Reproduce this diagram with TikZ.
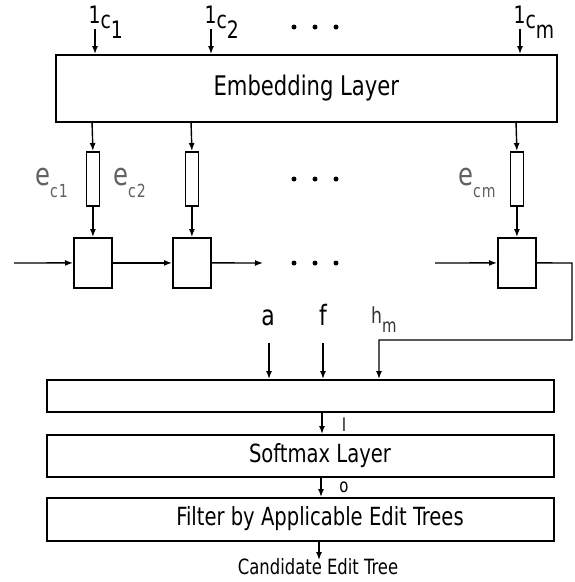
\documentclass[tikz,border=0pt]{standalone}
\usepackage{fontspec}
\setmainfont[FakeStretch=0.87]{DejaVu Sans Condensed}
\usetikzlibrary{arrows.meta}
\newcommand{\fsz}[1]{\fontsize{#1}{#1}\selectfont}
\tikzset{
  box/.style={draw,line width=1.8pt,inner sep=0pt,anchor=north west},
  arr/.style={line width=1.4pt,-{Latex[length=8pt,width=6pt]}},
  dot/.style={fill,circle,inner sep=0pt,minimum size=5pt},
  lbl/.style={inner sep=0pt},
  glbl/.style={inner sep=0pt,text=black!62},
}
\newcommand{\onec}[1]{1\raisebox{-5pt}{c}\raisebox{-15pt}{#1}}
\newcommand{\ec}[1]{{\fsz{31}e}\raisebox{-12pt}{\fsz{18}c\kern1pt#1}}
\begin{document}
\begin{tikzpicture}[x=1pt,y=-1pt]
\useasboundingbox[fill=white] (0,0) rectangle (575,582);
% embedding layer
\node[box,minimum width=501pt,minimum height=67pt] (emb) at (55,54) {};
\node[lbl,font=\fsz{27}] at (emb.center) {Embedding Layer};
% inputs
\foreach \x/\s/\n in {95/1/i1,211/2/i2,520/m/im}{
  \coordinate (\n) at (\x,29);
  \node[lbl,anchor=base west,font=\fsz{24}] at (\x-6.6,23) {\onec{\s}};
  \draw[arr] (\n) -- (\x,54);
}
\foreach \x in {294,315,336}{\node[dot] at (\x,27) {};}
% thin rects and cells
\foreach \x/\n in {92/a,191/b,516/c}{
  \node[box,minimum width=13pt,minimum height=54pt] (t\n) at (\x-6.5,151) {};
  \node[box,minimum width=38pt,minimum height=50pt] (c\n) at (\x-19,237) {};
  \draw[arr] (\x,121) -- (t\n.north);
  \draw[arr] (t\n.south) -- (c\n.north);
}
\foreach \x in {294,315,336}{\node[dot] at (\x,179) {}; \node[dot] at (\x,263) {};}
\node[glbl,anchor=base west] at (35,185) {\ec{1}};
\node[glbl,anchor=base west] at (113,185) {\ec{2}};
\node[glbl,anchor=base west] at (458,185) {\ec{m}};
% recurrent arrows
\coordinate (s0) at (14,263);
\coordinate (s1) at (263,263);
\coordinate (s2) at (435,263);
\draw[arr] (s0) -- (ca.west);
\draw[arr] (ca.east) -- (cb.west);
\draw[arr] (cb.east) -- (s1);
\draw[arr] (s2) -- (cc.west);
% lower boxes
\node[box,minimum width=507pt,minimum height=32pt] (comb) at (46,379) {};
\node[box,minimum width=507pt,minimum height=42pt] (soft) at (46,434) {};
\node[lbl,font=\fsz{25}] at (320,456) {Softmax Layer};
\node[box,minimum width=507pt,minimum height=43pt] (filt) at (46,497) {};
\node[lbl,font=\fsz{25}] at (320,519) {Filter by Applicable Edit Trees};
\node[lbl,font=\fsz{21},anchor=base] (cand) at (318,574) {Candidate Edit Tree};
\coordinate (cend) at (319,560);
% a f h
\node[lbl,font=\fsz{28},anchor=base] (la) at (268,325) {a};
\node[lbl,font=\fsz{28},anchor=base] (lf) at (323,325) {f};
\node[glbl,anchor=base west,font=\fsz{22},text=black!80] (lh) at (371,323) {h\raisebox{-9pt}{\fsz{19}m}};
\coordinate (ta) at (269,343);
\coordinate (tf) at (323,343);
\draw[arr] (ta) -- (ta|-comb.north);
\draw[arr] (tf) -- (tf|-comb.north);
\draw[arr] (cc.east) -- (572,263) -- (572,340) -- (379,340) -- (379,379);
\draw[arr] (322,411) -- (322,434);
\node[lbl,font=\fsz{18},anchor=base] at (344,431) {l};
\draw[arr] (321,476) -- (321,497);
\node[lbl,font=\fsz{19},anchor=base] at (344,492) {o};
\draw[arr] (319,540) -- (cend);
\end{tikzpicture}
\end{document}
